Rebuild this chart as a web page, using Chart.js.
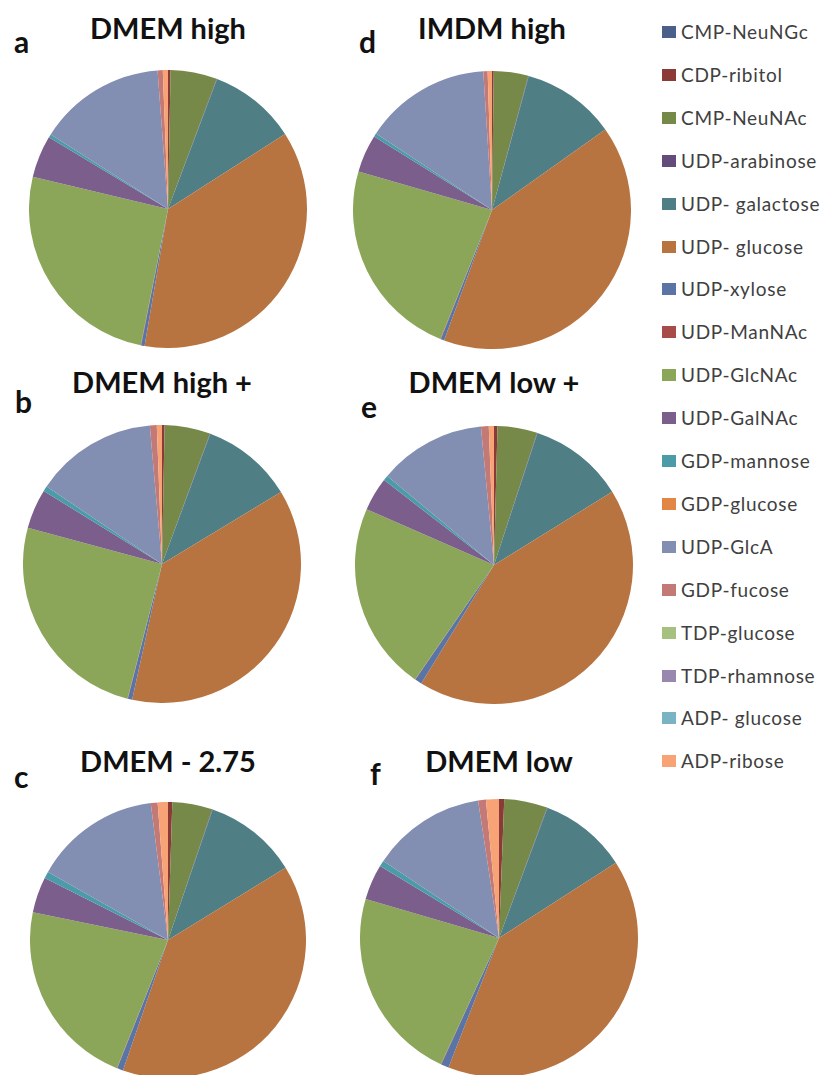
<!DOCTYPE html>
<html>
<head>
<meta charset="utf-8">
<script src="https://cdn.jsdelivr.net/npm/chart.js@4.4.1/dist/chart.umd.min.js"></script>
<style>
  html,body{margin:0;padding:0;background:#fff;overflow:hidden}
  body{width:821px;height:1075px;position:relative;font-family:Lato,"Noto Sans",sans-serif}
  .pie{position:absolute}
  .title{position:absolute;width:300px;text-align:center;font-weight:bold;font-size:29px;line-height:29px;color:#111;white-space:nowrap}
  .tag{position:absolute;font-weight:bold;font-size:30px;line-height:30px;color:#111}
  #legend{position:absolute;left:662px;top:0}
  .item{position:absolute;left:0;height:20px;white-space:nowrap;font-size:19px;letter-spacing:0.7px;color:#404040;line-height:20px}
  .item span.box{position:absolute;left:0;top:4px;width:14px;height:12px}
  .item span.txt{position:absolute;left:19px;top:0}
</style>
</head>
<body>
<div id="legend"></div>
<script>
const labels = ['CMP-NeuNGc','CDP-ribitol','CMP-NeuNAc','UDP-arabinose','UDP- galactose','UDP- glucose',
  'UDP-xylose','UDP-ManNAc','UDP-GlcNAc','UDP-GalNAc','GDP-mannose','GDP-glucose','UDP-GlcA',
  'GDP-fucose','TDP-glucose','TDP-rhamnose','ADP- glucose','ADP-ribose'];
const colors = ['#4A608B','#8C3A38','#768948','#634C7C','#507E85','#B87440','#5B74A6','#A84C4A','#8BA659',
  '#7C5E8C','#4B9BA8','#E28646','#828EB2','#C37A76','#A6C080','#9888AF','#7AB4C4','#F8A376'];

// percentages, same order as labels
const dmemHigh     = [0,0.3,5.4,0.05,10.2,36.8,0.4,0.05,25.6,4.9,0.4,0,14.8,0.6,0,0,0,0.6];
const dmemHighPlus = [0,0.3,5.3,0.05,10.7,37.1,0.5,0.05,25.2,4.6,0.6,0,14.2,0.8,0,0,0,0.6];
const dmem275      = [0,0.5,4.7,0.05,11.0,39.1,0.7,0.05,22.2,4.2,0.8,0,14.8,0.8,0,0,0,1.2];
const imdmHigh     = [0,0.2,4.0,0.05,10.9,40.4,0.4,0.05,23.4,4.4,0.4,0,14.7,0.5,0,0,0,0.5];
const dmemLowPlus  = [0,0.4,4.6,0.05,11.1,42.5,0.8,0.05,21.9,3.9,0.6,0,12.4,0.9,0,0,0,0.6];
const dmemLow      = [0,0.6,5.0,0.05,10.2,39.9,0.9,0.05,22.6,4.1,0.7,0,13.2,0.9,0,0,0,1.5];

const panels = [
  {tag:'a', title:'DMEM high',   data:dmemHigh,     cx:168, cy:209, r:139, tagX:14,  tagY:53,  titleY:39},
  {tag:'b', title:'DMEM high +', data:dmemHighPlus, cx:162, cy:564, r:139, tagX:15,  tagY:413, titleY:393},
  {tag:'c', title:'DMEM - 2.75', data:dmem275,      cx:168, cy:940, r:138, tagX:14,  tagY:788, titleY:772},
  {tag:'d', title:'IMDM high',   data:imdmHigh,     cx:492, cy:210, r:139, tagX:359, tagY:53,  titleY:39},
  {tag:'e', title:'DMEM low +',  data:dmemLowPlus,  cx:494, cy:565, r:139, tagX:361, tagY:418, titleY:393},
  {tag:'f', title:'DMEM low',    data:dmemLow,      cx:499, cy:938, r:139, tagX:370, tagY:785, titleY:772}
];

function el(tag, cls, css, text){
  const d=document.createElement(tag);
  if(cls) d.className=cls;
  Object.assign(d.style, css||{});
  if(text!=null) d.textContent=text;
  document.body.appendChild(d);
  return d;
}

panels.forEach(p=>{
  el('div','title',{left:(p.cx-150)+'px', top:(p.titleY-26)+'px'}, p.title);
  el('div','tag',{left:p.tagX+'px', top:(p.tagY-27)+'px'}, p.tag);
  const size=p.r*2;
  const cv=el('canvas','pie',{left:(p.cx-p.r)+'px', top:(p.cy-p.r)+'px', width:size+'px', height:size+'px'});
  cv.width=size; cv.height=size;
  new Chart(cv,{
    type:'pie',
    data:{labels, datasets:[{data:p.data, backgroundColor:colors, borderWidth:0, hoverOffset:0, offset:0}]},
    options:{
      responsive:false, animation:false, events:[],
      layout:{padding:0},
      plugins:{legend:{display:false}, tooltip:{enabled:false}}
    }
  });
});

// legend
const lg=document.getElementById('legend');
labels.forEach((name,i)=>{
  const row=document.createElement('div');
  row.className='item';
  row.style.top=(22+i*42.9)+'px';
  row.innerHTML=`<span class="box" style="background:${colors[i]}"></span><span class="txt">${name}</span>`;
  lg.appendChild(row);
});
</script>
</body>
</html>
